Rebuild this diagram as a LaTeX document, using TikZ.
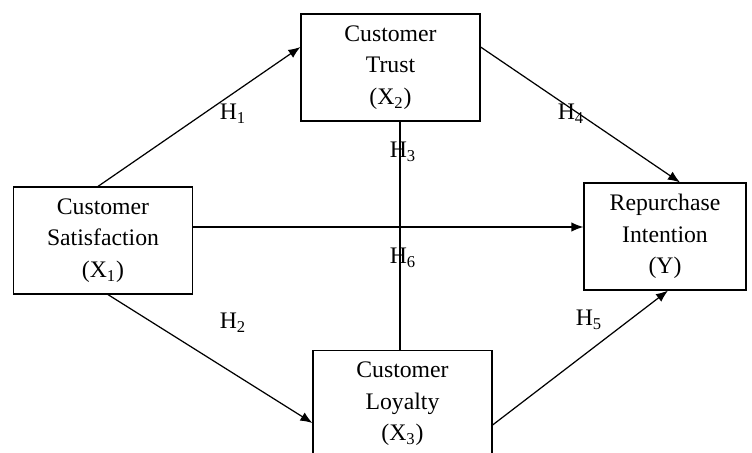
\documentclass[tikz,border=0pt]{standalone}
\usepackage{fontspec}
\setmainfont{Liberation Serif}
\usetikzlibrary{arrows.meta}

\tikzset{
    varbox/.style={draw, line width=0.7pt, align=center, inner sep=2pt,
        minimum width=3.58cm, minimum height=2.14cm,
        font=\fontsize{13.5}{18}\selectfont},
    hlabel/.style={inner sep=1pt, font=\fontsize{13.5}{16}\selectfont},
    path/.style={line width=0.7pt, -{Latex[length=2.4mm,width=1.9mm]}}
}

\begin{document}
\begin{tikzpicture}[x=0.02cm, y=-0.02cm]
            \useasboundingbox (0,0) rectangle (752,453);
            \clip (0,0) rectangle (752,453);

            % Draw the variables
            \node[varbox] (trust) at (390.5,67.5) {Customer\\Trust\\(X\textsubscript{2})};
            \node[varbox] (sat) at (103,240.5) {Customer\\Satisfaction\\(X\textsubscript{1})};
            \node[varbox, minimum width=3.24cm] (rep) at (665,236.5) {Repurchase\\Intention\\(Y)};
            \node[varbox] (loyal) at (402.5,404) {Customer\\Loyalty\\(X\textsubscript{3})};

            % Paths between the variables
            \draw[path] ([xshift=-0.1cm]sat.north) -- ([yshift=0.41cm]trust.west);
            \draw[path] ([xshift=0.1cm]sat.south) -- ([yshift=-0.38cm]loyal.west);
            \draw[path] ([yshift=0.41cm]trust.east) -- ([xshift=0.3cm]rep.north);
            \draw[path] ([yshift=-0.42cm]loyal.east) -- ([xshift=0.06cm]rep.south);
            \coordinate (direct) at ([yshift=0.27cm]sat.east);
            \draw[path] (direct) -- (direct -| rep.west);
            \draw[line width=0.7pt] ([xshift=-0.05cm]loyal.north |- trust.south) -- ([xshift=-0.05cm]loyal.north);

            % Hypothesis labels
            \foreach \n/\x/\y in {1/233/114, 2/233/323, 3/403/152, 4/571/114, 5/589/320, 6/403/258} {
                \node[hlabel] (h\n) at (\x,\y) {H\textsubscript{\n}};
            }

        \end{tikzpicture}
\end{document}
